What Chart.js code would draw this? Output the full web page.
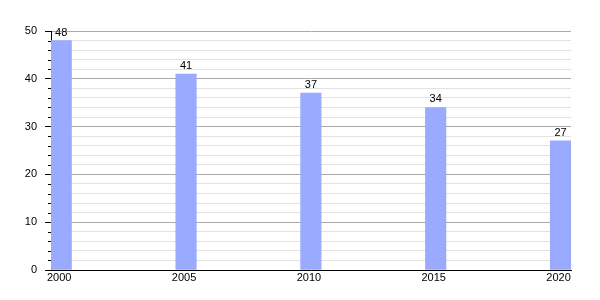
<!DOCTYPE html>
<html>
<head>
<meta charset="utf-8">
<script src="https://cdn.jsdelivr.net/npm/chart.js@4"></script>
<style>
  html, body { margin: 0; background: #fff; }
  #wrap { width: 600px; height: 300px; }
</style>
</head>
<body>
<div id="wrap"><canvas id="chart"></canvas></div>
<script>
// Data
const years = [2000, 2005, 2010, 2015, 2020];
const values = [48, 41, 37, 34, 27];
const yMax = 50;
const yMajorStep = 10;
const yMinorStep = 2;

const FONT = { family: '"Liberation Sans", Arial, sans-serif', size: 11 };

// Short tick marks for the minor y steps
const minorTicks = {
    id: 'minorTicks',
    afterDraw(chart) {
        const y = chart.scales.y;
        const ctx = chart.ctx;
        ctx.save();
        ctx.strokeStyle = '#000';
        ctx.lineWidth = 1;
        y.ticks.forEach(t => {
            if (t.value % yMajorStep === 0) return;
            const py = Math.round(y.getPixelForValue(t.value)) + 0.5;
            ctx.beginPath();
            ctx.moveTo(y.right - 3, py);
            ctx.lineTo(y.right, py);
            ctx.stroke();
        });
        ctx.restore();
    }
};

// Value labels above each bar
const barLabels = {
    id: 'barLabels',
    afterDatasetsDraw(chart) {
        const ctx = chart.ctx;
        const meta = chart.getDatasetMeta(0);
        ctx.save();
        ctx.fillStyle = '#000';
        ctx.font = `${FONT.size}px ${FONT.family}`;
        ctx.textAlign = 'center';
        ctx.textBaseline = 'alphabetic';
        meta.data.forEach((bar, i) => {
            ctx.fillText(String(values[i]), bar.x, bar.y - 5);
        });
        ctx.restore();
    }
};

new Chart(document.getElementById('chart'), {
    type: 'bar',
    data: {
        datasets: [{
            data: years.map((yr, i) => ({ x: yr, y: values[i] })),
            backgroundColor: '#99aaff',
            borderWidth: 0,
            barThickness: 20.5
        }]
    },
    options: {
        responsive: true,
        maintainAspectRatio: false,
        animation: false,
        layout: { padding: { top: 31, right: 29, left: 0, bottom: 0 } },
        plugins: {
            legend: { display: false },
            tooltip: { enabled: false }
        },
        scales: {
            x: {
                type: 'linear',
                offset: false,
                min: years[0] - 0.41,
                max: years[years.length - 1] + 0.42,
                afterBuildTicks: axis => { axis.ticks = years.map(v => ({ value: v })); },
                afterFit: s => { s.height = 30; },
                grid: { display: false, drawTicks: false, offset: false },
                border: { display: true, color: '#000' },
                ticks: {
                    callback: v => String(v),
                    font: FONT,
                    color: '#000',
                    padding: 1,
                    labelOffset: -2,
                    maxRotation: 0,
                    autoSkip: false
                }
            },
            y: {
                min: 0,
                max: yMax,
                afterFit: s => { s.width = 51; },
                grid: {
                    color: c => c.tick.value % yMajorStep === 0 ? '#aaaaaa' : '#e2e2e2',
                    tickColor: c => c.tick.value % yMajorStep === 0 ? '#000' : 'rgba(0,0,0,0)',
                    tickLength: 6
                },
                border: { display: true, color: '#000' },
                ticks: {
                    stepSize: yMinorStep,
                    autoSkip: false,
                    callback: v => v % yMajorStep === 0 ? String(v) : '',
                    font: FONT,
                    color: '#000',
                    padding: 8
                }
            }
        }
    },
    plugins: [minorTicks, barLabels]
});
</script>
</body>
</html>
